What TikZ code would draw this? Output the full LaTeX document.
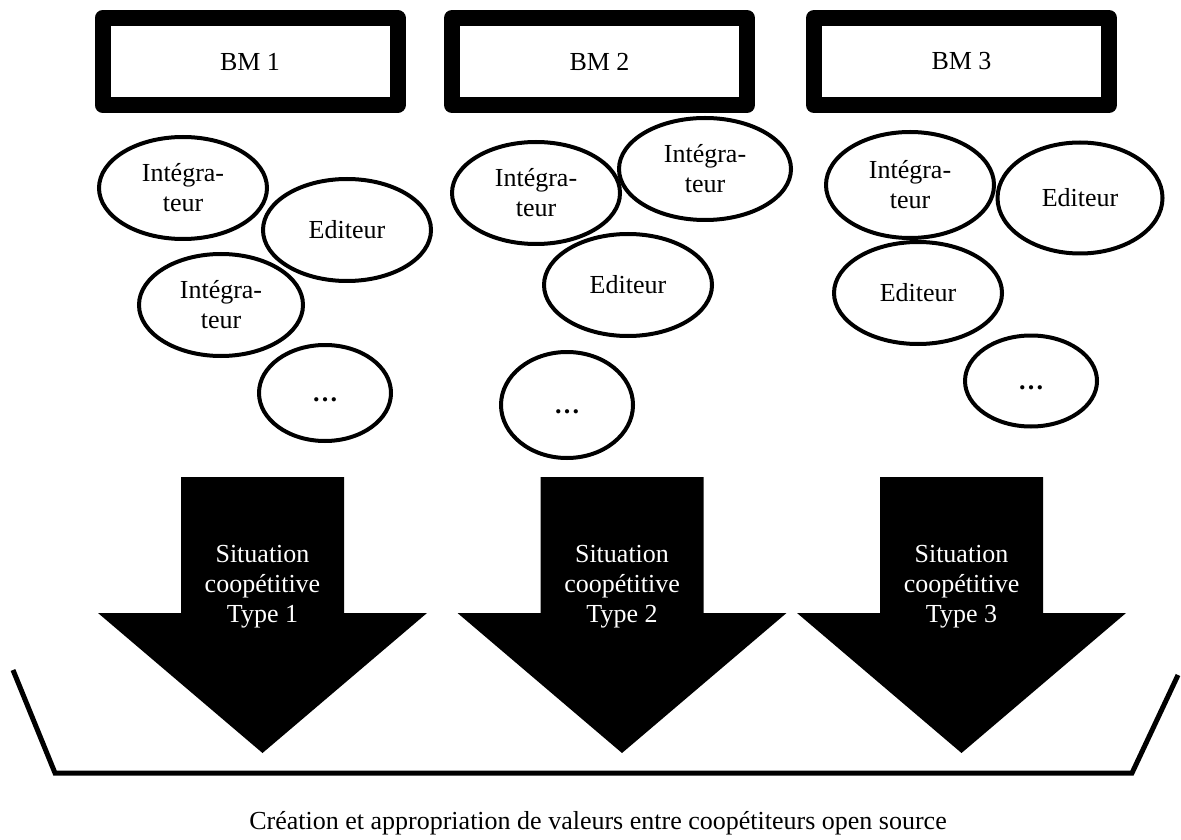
\documentclass[tikz,border=0pt]{standalone}
\usepackage{fontspec}
\setmainfont{Liberation Serif}
\usepackage{tikz}
\usetikzlibrary{
    calc,
    shapes.geometric
}
\newcommand{\BlockArrow}[3]{%
  \coordinate (#2) at (#1,753);
  \fill (#1-81.5,477) -- (#1+81.5,477) -- (#1+81.5,613) -- (#1+164.5,613)
    -- (#2) -- (#1-164.5,613) -- (#1-81.5,613) -- cycle;
  \node [situation] (#2txt) at (#1,587) {#3};
}

\begin{document}
\begin{tikzpicture}[x=0.5pt,y=-0.5pt,
  every node/.style={font=\fontsize{13}{15}\selectfont},
  bm/.style={draw,line width=8pt,line join=round,
    minimum width=147.5pt,minimum height=43.5pt},
  actor/.style={draw,ellipse,line width=2pt,inner sep=0pt,
    minimum width=84pt,minimum height=51pt,align=center},
  dots/.style={actor,minimum width=66pt,minimum height=48pt},
  situation/.style={text=white,align=center}]
\useasboundingbox (0,0) rectangle (1181,839);
\node [bm] (BM1) at (250,61.5) {BM 1};
\node [bm] (BM2) at (599.5,61.5) {BM 2};
\node [bm] (BM3) at (961.5,61.5) {BM 3};
% BM 1
\node [actor] (I11) at (183,188) {Intégra-\\teur};
\node [actor] (E11) at (347,230) {Editeur};
\node [actor,minimum width=82pt] (I12) at (221,305) {Intégra-\\teur};
\node [dots] (D1) at (325,393) {\rule{0pt}{9pt}\textbf{…}};
% BM 2
\node [actor] (I21) at (536,193) {Intégra-\\teur};
\node [actor,minimum width=86pt] (I22) at (705,169) {Intégra-\\teur};
\node [actor] (E21) at (628,285) {Editeur};
\node [dots,minimum height=53pt] (D2) at (567,405) {\rule{0pt}{9pt}\textbf{…}};
% BM 3
\node [actor,minimum height=53pt] (I31) at (910,185) {Intégra-\\teur};
\node [actor,minimum width=82.5pt,minimum height=55.5pt] (E31) at (1080,198) {Editeur};
\node [actor] (E32) at (918,293) {Editeur};
\node [dots,minimum height=45.5pt] (D3) at (1031,381) {\rule{0pt}{9pt}\textbf{…}};
% fleches
\BlockArrow{262.5}{T1}{Situation\\coopétitive\\Type 1}
\BlockArrow{622}{T2}{Situation\\coopétitive\\Type 2}
\BlockArrow{961.5}{T3}{Situation\\coopétitive\\Type 3}
% bac
\coordinate (TL) at (13,670);
\coordinate (BL) at (55,773);
\coordinate (BR) at (1132,773);
\coordinate (TR) at (1178,675);
\draw [line width=2.5pt] (TL) -- (BL) -- (BR) -- (TR);
\node (valeur) at (598,823) {Création et appropriation de valeurs entre coopétiteurs open source};
\end{tikzpicture}
\end{document}
